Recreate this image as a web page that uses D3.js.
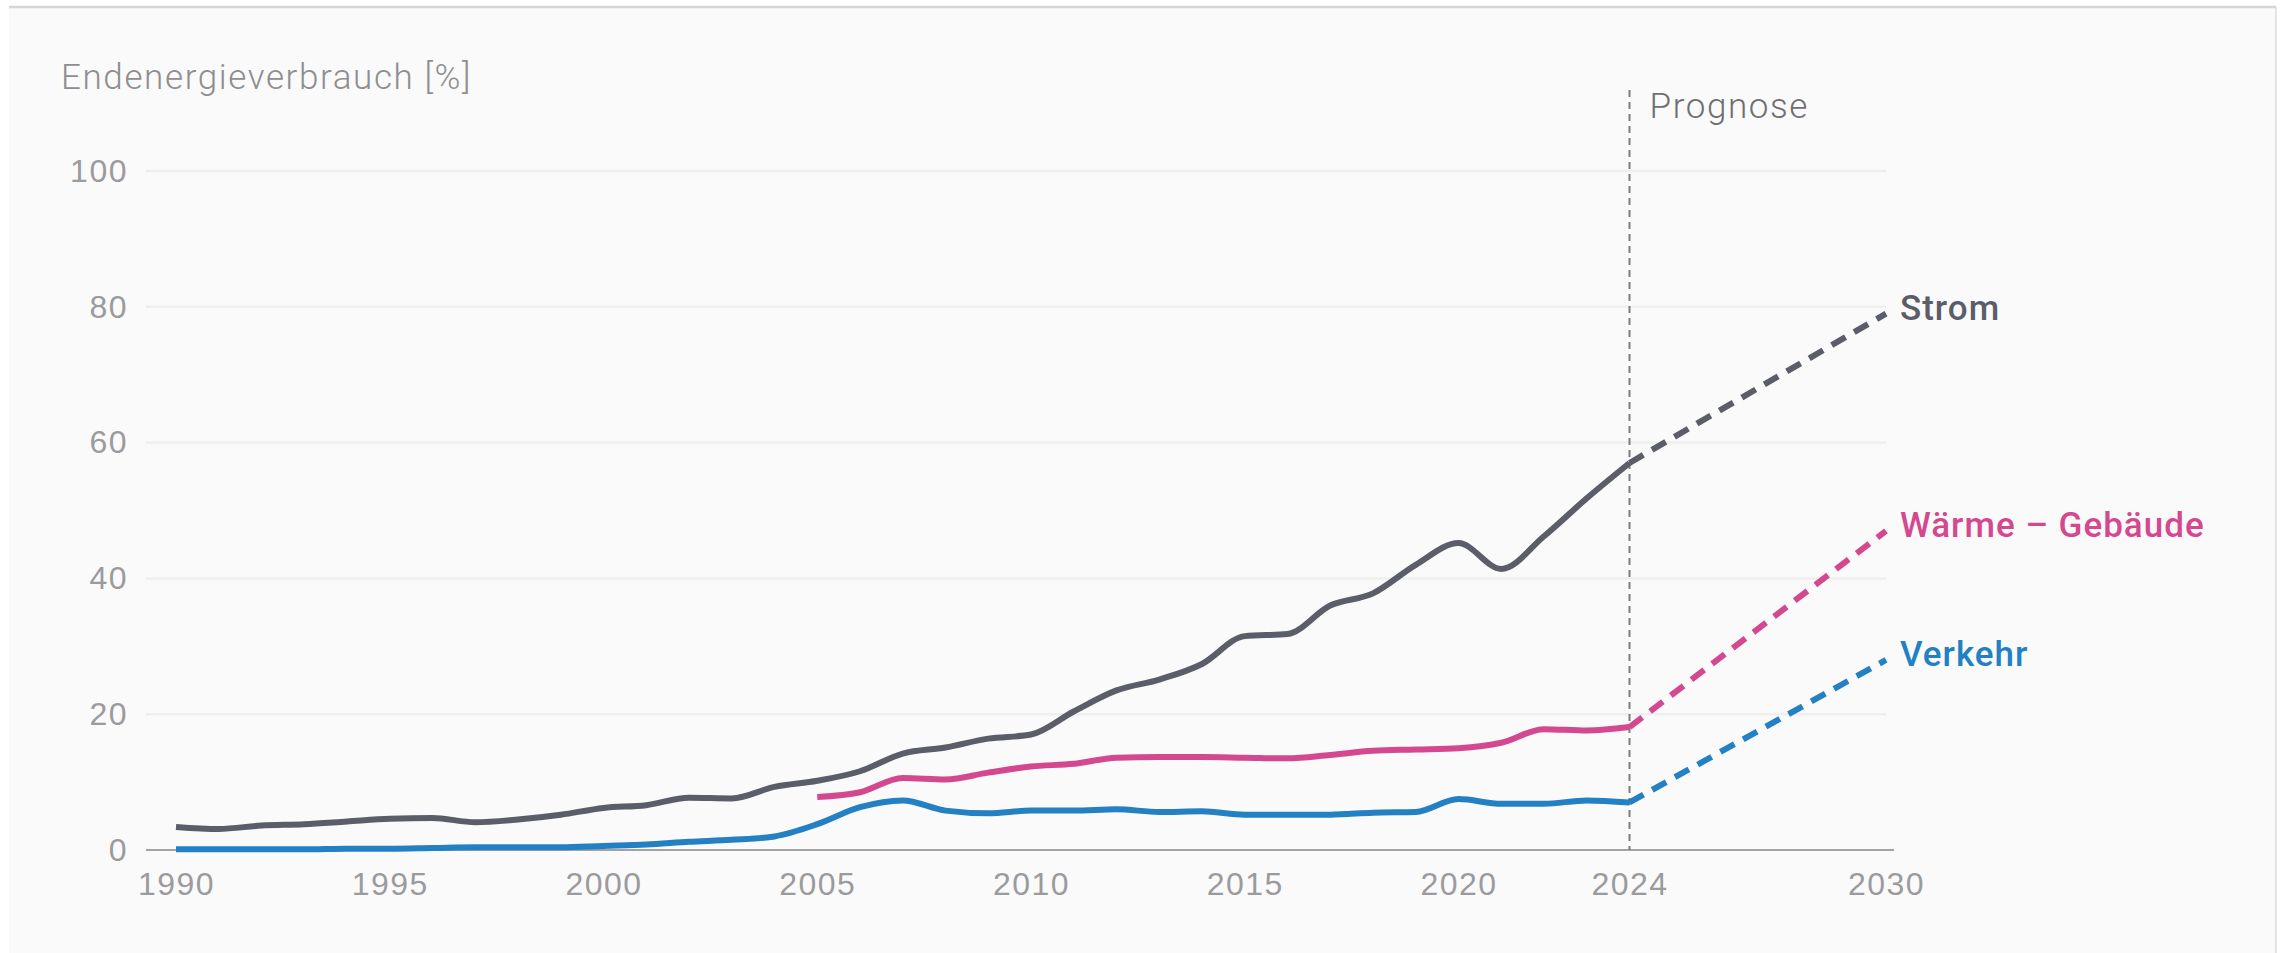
<!DOCTYPE html>
<html>
<head>
<meta charset="utf-8">
<script src="https://cdn.jsdelivr.net/npm/d3@7"></script>
<style>
  html, body { margin: 0; padding: 0; background: #ffffff; }
  svg { display: block; font-family: Roboto, "Noto Sans", sans-serif; }
</style>
</head>
<body>
<div id="chart"></div>
<script>
// Data
var years = d3.range(1990, 2025);
var strom = [3.4, 3.1, 3.6, 3.8, 4.2, 4.6, 4.7, 4.1, 4.5, 5.2,
             6.2, 6.6, 7.7, 7.6, 9.3, 10.2, 11.6, 14.2, 15.1, 16.4,
             17.0, 20.4, 23.5, 25.1, 27.4, 31.5, 31.8, 36.0, 37.8, 42.0,
             45.2, 41.4, 46.2, 51.8, 57.0];
var waermeYears = d3.range(2005, 2025);
var waerme = [7.8, 8.5, 10.6, 10.4, 11.4, 12.3, 12.7, 13.6, 13.7, 13.7,
              13.6, 13.5, 14.0, 14.6, 14.8, 15.0, 15.8, 17.8, 17.6, 18.1];
var verkehr = [0.1, 0.1, 0.1, 0.1, 0.2, 0.2, 0.3, 0.4, 0.4, 0.4,
               0.6, 0.8, 1.2, 1.5, 2.0, 3.8, 6.3, 7.3, 5.8, 5.4,
               5.8, 5.8, 6.0, 5.6, 5.7, 5.2, 5.2, 5.2, 5.5, 5.6,
               7.5, 6.8, 6.8, 7.3, 7.0];
var prognoseYears = [2024, 2030];
var stromPrognose = [57.0, 79];
var waermePrognose = [18.1, 47];
var verkehrPrognose = [7.0, 28];
var yTicks = [0, 20, 40, 60, 80, 100];
var xTicks = [1990, 1995, 2000, 2005, 2010, 2015, 2020, 2024, 2030];

// Parameters
var width = 2287,
    height = 953;

var series = [
  { name: "Strom", color: "#5b5d69", years: years, values: strom, prog: stromPrognose },
  { name: "Wärme – Gebäude", color: "#d4488f", years: waermeYears, values: waerme, prog: waermePrognose },
  { name: "Verkehr", color: "#2280c3", years: years, values: verkehr, prog: verkehrPrognose }
];

var svg = d3.select("#chart").append("svg")
    .attr("width", width)
    .attr("height", height);

// Card background
svg.append("rect")
    .attr("x", 9).attr("y", 7)
    .attr("width", 2267).attr("height", height)
    .attr("fill", "#fafafb");
svg.append("line")
    .attr("x1", 9).attr("x2", 2276).attr("y1", 7).attr("y2", 7)
    .attr("stroke", "#d6d6d8").attr("stroke-width", 2.5);
svg.append("line")
    .attr("x1", 2276).attr("x2", 2276).attr("y1", 7).attr("y2", height)
    .attr("stroke", "#dcdcde").attr("stroke-width", 1.5);

var x = d3.scaleLinear().domain([1990, 2030]).range([176, 1886]);
var y = d3.scaleLinear().domain([0, 100]).range([850, 171]);

// Gridlines
svg.append("g").selectAll("line")
    .data(yTicks.filter(function(d) { return d > 0; }))
    .enter().append("line")
      .attr("x1", 146).attr("x2", x(2030))
      .attr("y1", function(d) { return y(d); })
      .attr("y2", function(d) { return y(d); })
      .attr("stroke", "#efeff0")
      .attr("stroke-width", 2.5);

// Y axis
var yAxis = svg.append("g")
    .attr("transform", "translate(128,0)")
    .call(d3.axisLeft(y).tickValues(yTicks).tickSize(0).tickPadding(0));
yAxis.select(".domain").remove();
yAxis.selectAll("text")
    .attr("fill", "#9b9b9d")
    .style("font-size", "32px")
    .style("letter-spacing", "1.5px")
    .style("font-weight", 300);

// X axis
var xAxis = svg.append("g")
    .attr("transform", "translate(0," + y(0) + ")")
    .call(d3.axisBottom(x).tickValues(xTicks).tickFormat(d3.format("d")).tickSize(0).tickPadding(22));
xAxis.select(".domain").remove();
xAxis.selectAll("text")
    .attr("fill", "#9b9b9d")
    .style("font-size", "32px")
    .style("letter-spacing", "1.5px")
    .style("font-weight", 300);
svg.append("line")
    .attr("x1", 146).attr("x2", x(2030) + 8)
    .attr("y1", y(0)).attr("y2", y(0))
    .attr("stroke", "#a3a3a6").attr("stroke-width", 2);

// Axis title
svg.append("text")
    .attr("x", 61).attr("y", 77)
    .attr("dy", "0.35em")
    .attr("fill", "#8e8e90")
    .style("font-size", "35px")
    .style("letter-spacing", "1.6px")
    .style("font-weight", 300)
    .text("Endenergieverbrauch [%]");

// Prognose marker
svg.append("line")
    .attr("x1", x(2024)).attr("x2", x(2024))
    .attr("y1", 90).attr("y2", y(0))
    .attr("stroke", "#7d7d80")
    .attr("stroke-width", 2)
    .attr("stroke-dasharray", "7 5");
svg.append("text")
    .attr("x", x(2024) + 20).attr("y", 106)
    .attr("dy", "0.35em")
    .attr("fill", "#6f6f72")
    .style("font-size", "35px")
    .style("letter-spacing", "1.6px")
    .style("font-weight", 300)
    .text("Prognose");

// Lines
var line = d3.line()
    .x(function(d) { return x(d[0]); })
    .y(function(d) { return y(d[1]); })
    .curve(d3.curveMonotoneX);

var straight = d3.line()
    .x(function(d) { return x(d[0]); })
    .y(function(d) { return y(d[1]); });

series.forEach(function(s) {
  var pts = s.years.map(function(yr, i) { return [yr, s.values[i]]; });
  var progPts = prognoseYears.map(function(yr, i) { return [yr, s.prog[i]]; });

  svg.append("path")
      .attr("d", straight(progPts))
      .attr("fill", "none")
      .attr("stroke", s.color)
      .attr("stroke-width", 6)
      .attr("stroke-dasharray", "16 10");

  svg.append("path")
      .attr("d", line(pts))
      .attr("fill", "none")
      .attr("stroke", s.color)
      .attr("stroke-width", 6)
      .attr("stroke-linejoin", "round");

  svg.append("text")
      .attr("x", 1900)
      .attr("y", y(s.prog[1]) - 6)
      .attr("dy", "0.35em")
      .attr("fill", s.color)
      .style("font-size", "35px")
      .style("letter-spacing", "1px")
      .style("font-weight", 500)
      .text(s.name);
});
</script>
</body>
</html>
